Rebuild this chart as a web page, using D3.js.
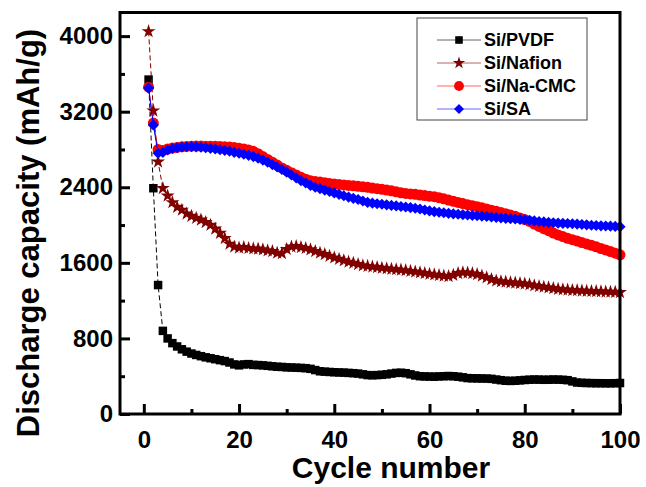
<!DOCTYPE html>
<html>
<head>
<meta charset="utf-8">
<script src="https://cdn.jsdelivr.net/npm/d3@7"></script>
<style>
  html, body { margin: 0; padding: 0; background: #ffffff; }
  svg { display: block; }
  text { font-family: "Liberation Sans", Arial, sans-serif; font-weight: bold; fill: #000; }
</style>
</head>
<body>
<svg id="chart" width="646" height="487"></svg>
<script>
// Cycle index 1..100
const cycles = d3.range(1, 101);

// Discharge capacity (mAh/g) per cycle for each binder
const pvdf = [
  3540, 2390, 1365, 880, 800, 750, 715, 685, 660, 640,
  625, 612, 600, 590, 580, 570, 560, 545, 525, 515,
  525, 528, 520, 518, 515, 510, 505, 500, 498, 494,
  492, 490, 488, 485, 478, 465, 452, 448, 445, 442,
  440, 438, 435, 432, 428, 420, 412, 410, 412, 415,
  420, 428, 435, 437, 432, 420, 408, 400, 398, 396,
  395, 398, 400, 402, 400, 395, 388, 380, 378, 377,
  376, 375, 372, 365, 358, 352, 350, 352, 356, 360,
  363, 365, 364, 362, 363, 365, 364, 362, 358, 345,
  333, 330, 328, 327, 326, 326, 325, 325, 326, 328
];
const nafion = [
  4050, 3210, 2670, 2390, 2310, 2240, 2190, 2160, 2120, 2095,
  2075, 2055, 2030, 2000, 1960, 1915, 1860, 1800, 1770, 1760,
  1765, 1755, 1750, 1748, 1740, 1730, 1722, 1705, 1700, 1745,
  1770, 1775, 1765, 1755, 1740, 1722, 1705, 1690, 1672, 1655,
  1640, 1625, 1610, 1598, 1585, 1572, 1565, 1558, 1552, 1545,
  1540, 1535, 1530, 1525, 1520, 1512, 1505, 1498, 1490, 1482,
  1475, 1468, 1462, 1458, 1470, 1490, 1498, 1495, 1488, 1478,
  1462, 1445, 1425, 1410, 1402, 1398, 1392, 1388, 1383, 1378,
  1370, 1360, 1352, 1345, 1338, 1330, 1322, 1318, 1314, 1310,
  1308, 1305, 1302, 1300, 1298, 1296, 1294, 1292, 1290, 1288
];
const nacmc = [
  3460, 3080, 2800, 2790, 2805, 2815, 2822, 2828, 2832, 2835,
  2836, 2836, 2835, 2834, 2833, 2832, 2830, 2826, 2820, 2814,
  2806, 2795, 2780, 2755, 2725, 2695, 2665, 2635, 2605, 2580,
  2555, 2530, 2505, 2485, 2470, 2462, 2455, 2448, 2440, 2434,
  2430, 2425, 2420, 2415, 2410, 2405, 2400, 2392, 2385, 2378,
  2370, 2362, 2352, 2342, 2335, 2330, 2325, 2318, 2312, 2306,
  2300, 2290, 2278, 2265, 2252, 2240, 2228, 2216, 2205, 2194,
  2182, 2170, 2158, 2145, 2132, 2120, 2106, 2092, 2075, 2058,
  2038, 2010, 1985, 1962, 1940, 1915, 1895, 1878, 1860, 1845,
  1830, 1815, 1800, 1785, 1770, 1752, 1736, 1720, 1702, 1685
];
const sa = [
  3450, 3060, 2760, 2770, 2795, 2810, 2820, 2826, 2829, 2830,
  2828, 2824, 2818, 2812, 2805, 2797, 2790, 2782, 2770, 2760,
  2750, 2738, 2725, 2708, 2688, 2665, 2640, 2615, 2588, 2560,
  2530, 2500, 2470, 2445, 2420, 2400, 2385, 2370, 2355, 2340,
  2325, 2310, 2296, 2283, 2270, 2255, 2240, 2232, 2226, 2220,
  2214, 2208, 2203, 2197, 2191, 2185, 2178, 2170, 2160, 2150,
  2142, 2136, 2130, 2124, 2119, 2114, 2110, 2106, 2102, 2098,
  2094, 2090, 2085, 2080, 2075, 2071, 2068, 2064, 2060, 2056,
  2050, 2044, 2038, 2033, 2028, 2024, 2020, 2018, 2016, 2014,
  2010, 2006, 2002, 1998, 1995, 1992, 1990, 1988, 1986, 1983
];

const seriesNames = ["Si/PVDF", "Si/Nafion", "Si/Na-CMC", "Si/SA"];
const xTicks = [0, 20, 40, 60, 80, 100];
const xMinorTicks = [10, 30, 50, 70, 90];
const yTicks = [0, 800, 1600, 2400, 3200, 4000];
const yMinorTicks = [400, 1200, 2000, 2800, 3600];

const svg = d3.select("#chart");
const m = { left: 120, top: 12.5, right: 620, bottom: 414 };

const x = d3.scaleLinear().domain([-5, 100]).range([m.left, m.right]);
const y = d3.scaleLinear().domain([0, 4250]).range([m.bottom, m.top]);

const styles = [
  { color: "#000000", dash: "5,3", symbol: d3.symbolSquare, size: 72, rot: 0 },
  { color: "#800000", dash: "5,3", symbol: d3.symbolStar, size: 60, rot: 0 },
  { color: "#ff0000", dash: null, symbol: d3.symbolCircle, size: 95, rot: 0 },
  { color: "#0000ff", dash: null, symbol: d3.symbolSquare, size: 62, rot: 45 }
];
const seriesData = [pvdf, nafion, nacmc, sa];

// axes: ticks point inward
const axisFont = g => g.selectAll("text")
  .style("font-size", "24px").style("font-weight", "bold")
  .style("font-family", "'Liberation Sans', Arial, sans-serif");
const fmt = d3.format("d");

const gx = svg.append("g").attr("transform", `translate(0,${m.bottom})`)
  .call(d3.axisBottom(x).tickValues(xTicks).tickFormat(fmt).tickSizeInner(-10).tickSizeOuter(0).tickPadding(17));
gx.select(".domain").remove();
gx.selectAll("line").attr("stroke-width", 3).attr("stroke", "#000");
axisFont(gx);

const gxm = svg.append("g").attr("transform", `translate(0,${m.bottom})`)
  .call(d3.axisBottom(x).tickValues(xMinorTicks).tickSizeInner(-5).tickSizeOuter(0).tickFormat(""));
gxm.select(".domain").remove();
gxm.selectAll("line").attr("stroke-width", 3).attr("stroke", "#000");

const gy = svg.append("g").attr("transform", `translate(${m.left},0)`)
  .call(d3.axisLeft(y).tickValues(yTicks).tickFormat(fmt).tickSizeInner(-10).tickSizeOuter(0).tickPadding(7));
gy.select(".domain").remove();
gy.selectAll("line").attr("stroke-width", 3).attr("stroke", "#000");
axisFont(gy);

const gym = svg.append("g").attr("transform", `translate(${m.left},0)`)
  .call(d3.axisLeft(y).tickValues(yMinorTicks).tickSizeInner(-5).tickSizeOuter(0).tickFormat(""));
gym.select(".domain").remove();
gym.selectAll("line").attr("stroke-width", 3).attr("stroke", "#000");

// series
const line = d3.line().x((d, i) => x(cycles[i])).y(d => y(d));
seriesData.forEach((vals, k) => {
  const st = styles[k];
  const g = svg.append("g");
  g.append("path").datum(vals)
    .attr("d", line).attr("fill", "none")
    .attr("stroke", st.color).attr("stroke-width", 1)
    .attr("stroke-dasharray", st.dash);
  const sym = d3.symbol().type(st.symbol).size(st.size);
  g.selectAll("path.pt").data(vals).join("path").attr("class", "pt")
    .attr("d", sym)
    .attr("transform", (d, i) => `translate(${x(cycles[i])},${y(d)}) rotate(${st.rot})`)
    .attr("fill", st.color);
});

// frame
svg.append("rect")
  .attr("x", m.left).attr("y", m.top)
  .attr("width", m.right - m.left).attr("height", m.bottom - m.top)
  .attr("fill", "none").attr("stroke", "#000").attr("stroke-width", 3);

// legend
const lg = svg.append("g");
lg.append("rect").attr("x", 417).attr("y", 18).attr("width", 170).attr("height", 102)
  .attr("fill", "#fff").attr("stroke", "#444").attr("stroke-width", 1);
seriesNames.forEach((name, k) => {
  const st = styles[k];
  const yy = 40 + k * 23;
  lg.append("line").attr("x1", 437).attr("x2", 481).attr("y1", yy).attr("y2", yy)
    .attr("stroke", st.color).attr("stroke-width", 1).attr("stroke-opacity", 0.6);
  lg.append("path").attr("d", d3.symbol().type(st.symbol).size(st.size * 0.8)())
    .attr("transform", `translate(459,${yy}) rotate(${st.rot})`).attr("fill", st.color);
  lg.append("text").attr("x", 484).attr("y", yy).attr("dy", "0.35em")
    .style("font-size", "18px").text(name);
});

// axis titles
svg.append("text").attr("x", 391).attr("y", 478)
  .attr("text-anchor", "middle").style("font-size", "30px").text("Cycle number");
svg.append("text").attr("transform", "translate(39,233) rotate(-90)")
  .attr("text-anchor", "middle").style("font-size", "31px").text("Discharge capacity (mAh/g)");
</script>
</body>
</html>
